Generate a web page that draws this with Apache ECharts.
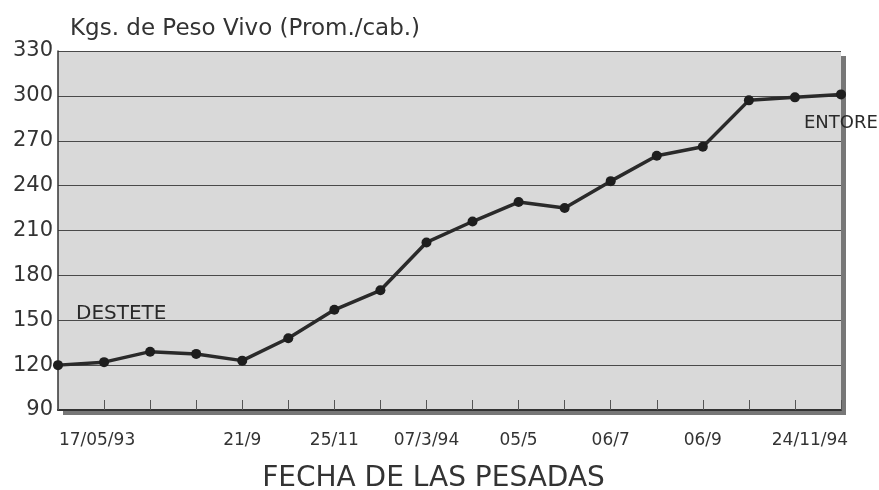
<!DOCTYPE html>
<html>
<head>
<meta charset="utf-8">
<script src="https://cdn.jsdelivr.net/npm/echarts@6/dist/echarts.min.js"></script>
<style>
  html, body { margin: 0; padding: 0; background: #ffffff; }
  #chart { width: 879px; height: 490px; }
</style>
</head>
<body>
<div id="chart"></div>
<script>
// ---- Data ----
const tickLabels = ['', '17/05/93', '', '', '21/9', '', '25/11', '', '07/3/94', '', '05/5', '', '06/7', '', '06/9', '', '24/11/94', ''];
const pesoVivo = [120, 122, 129, 127.5, 123, 138, 157, 170, 202, 216, 229, 225, 243, 260, 266, 297, 299, 301];
const yTicks = { min: 90, max: 330, interval: 30 };
const titleText = 'Kgs. de Peso Vivo (Prom./cab.)';
const xAxisName = 'FECHA DE LAS PESADAS';
const annotations = ['DESTETE', 'ENTORE'];

// ---- Chart ----
const FONT = 'DejaVu Sans';
const chart = echarts.init(document.getElementById('chart'), null, { renderer: 'canvas' });

const xData = tickLabels.map((l, i) => {
  const item = { value: l };
  if (i === 1) item.textStyle = { padding: [0, 14, 0, 0] };
  if (i === 16) item.textStyle = { padding: [0, 0, 0, 30] };
  return item;
});

const option = {
  backgroundColor: '#ffffff',
  animation: false,
  title: {
    text: titleText,
    left: 65,
    top: 13,
    textStyle: { fontFamily: FONT, fontSize: 23, fontWeight: 'normal', color: '#333' }
  },
  grid: {
    left: 58, right: 38, top: 51, bottom: 80,
    outerBoundsMode: 'none',
    containLabel: false,
    show: true,
    backgroundColor: '#d9d9d9',
    borderWidth: 0,
    shadowColor: '#777',
    shadowOffsetX: 5,
    shadowOffsetY: 5,
    shadowBlur: 0
  },
  xAxis: {
    type: 'category',
    boundaryGap: false,
    data: xData,
    name: xAxisName,
    nameLocation: 'middle',
    nameGap: 55,
    nameTextStyle: { fontFamily: FONT, fontSize: 28, color: '#333', padding: [0, 32, 0, 0] },
    axisLine: { show: true, lineStyle: { color: '#333', width: 2 } },
    axisTick: { show: true, inside: true, length: 10, interval: 0, lineStyle: { color: '#555', width: 1 } },
    axisLabel: { interval: 0, fontFamily: FONT, fontSize: 17, color: '#333', margin: 22 },
    splitLine: { show: false }
  },
  yAxis: {
    type: 'value',
    min: yTicks.min, max: yTicks.max, interval: yTicks.interval,
    axisLine: { show: true, lineStyle: { color: '#333', width: 1.5 } },
    axisTick: { show: false },
    axisLabel: { fontFamily: FONT, fontSize: 21, color: '#333', margin: 5 },
    splitLine: { show: true, lineStyle: { color: '#4a4a4a', width: 1.2 } }
  },
  graphic: [
    { type: 'text', x: 76, y: 314, style: { text: annotations[0], fontFamily: FONT, fontSize: 20, fill: '#2a2a2a', verticalAlign: 'middle', align: 'left' } },
    { type: 'text', x: 804, y: 123, style: { text: annotations[1], fontFamily: FONT, fontSize: 18, fill: '#2a2a2a', verticalAlign: 'middle', align: 'left' } }
  ],
  series: [{
    type: 'line',
    data: pesoVivo,
    symbol: 'circle',
    symbolSize: 10,
    showSymbol: true,
    lineStyle: { color: '#2a2a2a', width: 3.5 },
    itemStyle: { color: '#1e1e1e' }
  }]
};
chart.setOption(option);
</script>
</body>
</html>
